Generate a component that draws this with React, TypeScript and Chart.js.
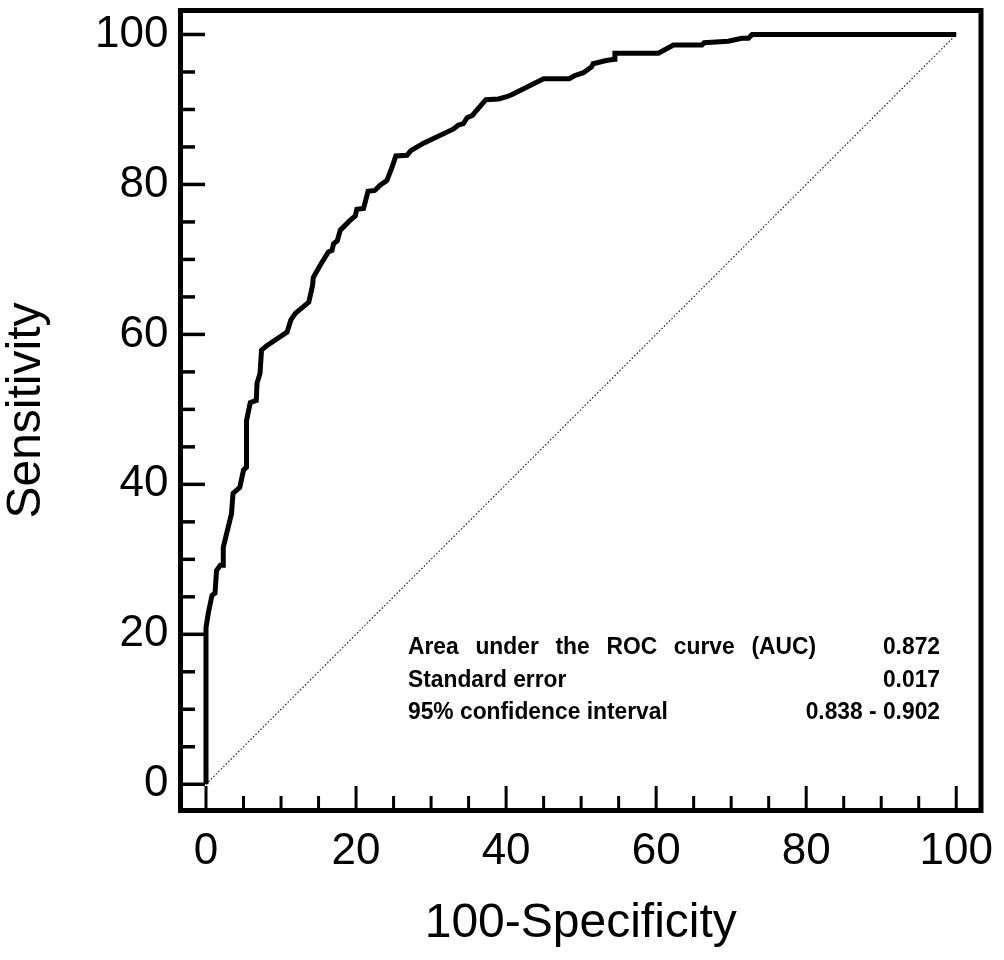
import React, { useEffect, useRef } from "react";
import { Chart, registerables } from "chart.js";

Chart.register(...registerables);

// ROC curve points (100-Specificity, Sensitivity)
const rocX = [0, 0, 0.3, 0.8, 1.2, 1.4, 1.9, 2.3, 2.3, 3.4, 3.6, 4.5, 5.0, 5.4, 5.4, 5.9, 6.7, 6.8, 7.2, 7.4, 8.1, 10.8, 11.3, 11.9, 13.7, 14.2, 14.3, 15.2, 16.3, 16.8, 17.0, 17.5, 17.9, 19.2, 19.9, 20.1, 21.0, 21.6, 22.5, 23.2, 24.1, 24.8, 25.3, 26.8, 27.3, 29.0, 33.0, 33.6, 34.3, 34.8, 35.5, 37.3, 39.0, 40.1, 40.8, 45.0, 48.4, 49.1, 50.3, 51.4, 51.6, 53.2, 54.4, 54.5, 60.3, 62.3, 66.1, 66.4, 69.6, 71.4, 72.3, 72.8, 100];
const rocY = [0, 20.9, 22.8, 25.2, 25.5, 28.5, 29.2, 29.2, 31.6, 36.1, 38.8, 39.6, 41.9, 42.3, 48.5, 50.9, 51.2, 53.5, 54.8, 57.9, 58.5, 60.3, 61.9, 62.8, 64.3, 66.5, 67.6, 69.2, 71.0, 71.2, 72.1, 72.5, 73.9, 75.2, 75.8, 76.7, 76.8, 79.1, 79.2, 79.9, 80.5, 82.3, 83.8, 83.9, 84.5, 85.5, 87.4, 87.9, 88.1, 88.9, 89.2, 91.3, 91.4, 91.7, 92.0, 94.1, 94.1, 94.5, 94.9, 95.7, 96.1, 96.5, 96.7, 97.5, 97.5, 98.6, 98.6, 98.9, 99.1, 99.5, 99.5, 100, 100];

// Reference (chance) line
const diagX = [0, 100];
const diagY = [0, 100];

// Axis ticks
const majorTicks = [0, 20, 40, 60, 80, 100];
const allTicks = [0, 5, 10, 15, 20, 25, 30, 35, 40, 45, 50, 55, 60, 65, 70, 75, 80, 85, 90, 95, 100];

// Statistics box
const statLabels = ["Area under the ROC curve (AUC)", "Standard error", "95% confidence interval"];
const statValues = ["0.872", "0.017", "0.838 - 0.902"];

const FONT = "'Liberation Sans', Arial, Helvetica, sans-serif";

const framePlugin = {
  id: "frameTicks",
  afterDatasetsDraw(chart: any) {
    const { ctx, chartArea } = chart;
    const xs = chart.scales.x;
    const ys = chart.scales.y;
    ctx.save();
    ctx.strokeStyle = "#000";
    ctx.lineWidth = 3;
    ctx.lineCap = "butt";
    for (const v of allTicks) {
      const px = xs.getPixelForValue(v);
      const len = majorTicks.includes(v) ? 24.5 : 14.5;
      ctx.beginPath();
      ctx.moveTo(px, chartArea.bottom);
      ctx.lineTo(px, chartArea.bottom - len);
      ctx.stroke();
    }
    ctx.lineWidth = 3.5;
    for (const v of allTicks) {
      const py = ys.getPixelForValue(v);
      const len = majorTicks.includes(v) ? 24.5 : 14.5;
      ctx.beginPath();
      ctx.moveTo(chartArea.left, py);
      ctx.lineTo(chartArea.left + len, py);
      ctx.stroke();
    }
    ctx.lineWidth = 5;
    ctx.lineJoin = "miter";
    ctx.strokeRect(chartArea.left, chartArea.top, chartArea.right - chartArea.left, chartArea.bottom - chartArea.top);
    ctx.restore();
  },
};

const statsPlugin = {
  id: "statsBox",
  afterDraw(chart: any) {
    const { ctx } = chart;
    const sx = 0.95;
    const left = 408;
    const right = 940;
    const justifyRight = 816;
    const baselines = [654, 687, 719];
    ctx.save();
    ctx.fillStyle = "#000";
    ctx.font = `bold 24px ${FONT}`;
    ctx.textBaseline = "alphabetic";
    statLabels.forEach((label, i) => {
      const by = baselines[i];
      ctx.save();
      ctx.translate(left, by);
      ctx.scale(sx, 1);
      ctx.textAlign = "left";
      if (i === 0) {
        const words = label.split(" ");
        const widths = words.map((w) => ctx.measureText(w).width);
        const total = widths.reduce((a, b) => a + b, 0);
        const target = (justifyRight - left) / sx;
        const gap = (target - total) / (words.length - 1);
        let cx = 0;
        words.forEach((w, k) => {
          ctx.fillText(w, cx, 0);
          cx += widths[k] + gap;
        });
      } else {
        ctx.fillText(label, 0, 0);
      }
      ctx.restore();
      ctx.save();
      ctx.translate(right, by);
      ctx.scale(sx, 1);
      ctx.textAlign = "right";
      ctx.fillText(statValues[i], 0, 0);
      ctx.restore();
    });
    ctx.restore();
  },
};

export default function App() {
  const canvasRef = useRef<HTMLCanvasElement | null>(null);

  useEffect(() => {
    const canvas = canvasRef.current;
    if (!canvas) return;
    const chart = new Chart(canvas, {
      type: "scatter",
      data: {
        datasets: [
          {
            label: "ROC",
            data: rocX.map((x, i) => ({ x, y: rocY[i] })),
            showLine: true,
            borderColor: "#000",
            backgroundColor: "#000",
            borderWidth: 5,
            pointRadius: 0,
            tension: 0,
            borderJoinStyle: "miter",
            borderCapStyle: "butt",
          },
          {
            label: "Chance",
            data: diagX.map((x, i) => ({ x, y: diagY[i] })),
            showLine: true,
            borderColor: "#222",
            borderWidth: 1.2,
            borderDash: [1.5, 2],
            pointRadius: 0,
          },
        ],
      },
      options: {
        responsive: false,
        animation: false,
        devicePixelRatio: 1,
        layout: { padding: { left: 0, top: 10.5, right: 23, bottom: 0 } },
        plugins: {
          legend: { display: false },
          tooltip: { enabled: false },
        },
        scales: {
          x: {
            type: "linear",
            min: -3.4,
            max: 103.3,
            grid: { display: false, drawTicks: false },
            border: { display: false },
            afterBuildTicks: (s: any) => {
              s.ticks = majorTicks.map((v) => ({ value: v }));
            },
            afterFit: (s: any) => {
              s.height = 149.5;
              s.paddingLeft = 0;
              s.paddingRight = 0;
              s.paddingTop = 0;
              s.paddingBottom = 0;
            },
            ticks: {
              color: "#000",
              font: { family: FONT, size: 44, lineHeight: 1 },
              padding: 19,
              maxRotation: 0,
              autoSkip: false,
              callback: (v: any) => String(v),
            },
            title: {
              display: true,
              text: "100-Specificity",
              color: "#000",
              font: { family: FONT, size: 48, lineHeight: 1 },
              padding: { top: 0, bottom: 12.5 },
            },
          },
          y: {
            type: "linear",
            min: -3.5,
            max: 103.2,
            grid: { display: false, drawTicks: false },
            border: { display: false },
            afterBuildTicks: (s: any) => {
              s.ticks = majorTicks.map((v) => ({ value: v }));
            },
            afterFit: (s: any) => {
              s.width = 180.5;
              s.paddingLeft = 0;
              s.paddingRight = 0;
              s.paddingTop = 0;
              s.paddingBottom = 0;
            },
            ticks: {
              color: "#000",
              font: { family: FONT, size: 44, lineHeight: 1 },
              padding: 12,
              autoSkip: false,
              callback: (v: any) => String(v),
            },
            title: {
              display: true,
              text: "Sensitivity",
              color: "#000",
              font: { family: FONT, size: 48, lineHeight: 1 },
              padding: { top: 3, bottom: 0 },
            },
          },
        },
      },
      plugins: [framePlugin, statsPlugin],
    });
    return () => chart.destroy();
  }, []);

  return (
    <div style={{ position: "fixed", left: 0, top: 0, width: 1004, height: 960, background: "#fff" }}>
      <canvas ref={canvasRef} width={1004} height={960} style={{ display: "block", width: 1004, height: 960 }} />
    </div>
  );
}
